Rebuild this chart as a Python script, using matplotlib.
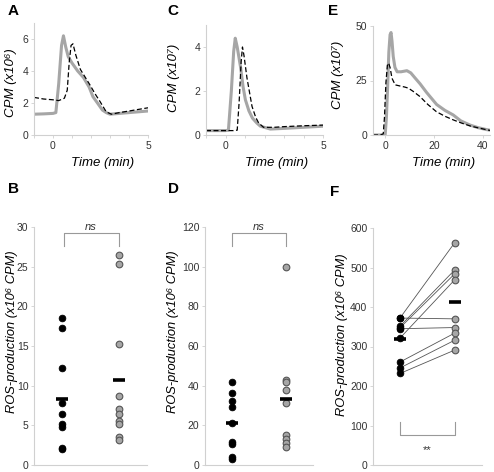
import matplotlib
matplotlib.use('Agg')
import matplotlib.pyplot as plt

plt.rcParams['font.family'] = ['Liberation Sans', 'DejaVu Sans']

# ---- kinetics (top row) ----
tA_solid = [-1, -0.5, 0, 0.15, 0.3, 0.45, 0.55, 0.67, 0.8, 1.0, 1.3, 1.6, 1.9, 2.1, 2.4, 2.6, 2.8, 3.0, 3.5, 4.0, 4.5, 5.0]
yA_solid = [1.3, 1.32, 1.35, 1.4, 3.2, 5.6, 6.2, 5.5, 4.9, 4.5, 4.0, 3.6, 3.0, 2.4, 1.9, 1.56, 1.4, 1.3, 1.35, 1.4, 1.45, 1.5]
tA_dash = [-1, -0.5, 0, 0.3, 0.6, 0.75, 0.85, 0.95, 1.05, 1.2, 1.44, 1.7, 1.96, 2.2, 2.47, 2.8, 3.07, 3.5, 4.0, 4.5, 5.0]
yA_dash = [2.35, 2.25, 2.2, 2.15, 2.3, 2.8, 4.5, 5.6, 5.7, 5.0, 4.1, 3.6, 3.1, 2.6, 2.1, 1.45, 1.3, 1.4, 1.5, 1.6, 1.7]

tC_solid = [-1, -0.5, 0, 0.15, 0.3, 0.42, 0.5, 0.6, 0.77, 0.9, 1.02, 1.2, 1.38, 1.6, 1.79, 2.3, 3.0, 4.0, 5.0]
yC_solid = [0.2, 0.2, 0.2, 0.22, 2.0, 3.8, 4.4, 4.0, 3.1, 2.2, 1.6, 1.1, 0.77, 0.55, 0.4, 0.27, 0.3, 0.35, 0.4]
tC_dash = [-1, -0.5, 0, 0.4, 0.6, 0.7, 0.8, 0.87, 0.95, 1.1, 1.36, 1.55, 1.7, 1.95, 2.5, 3.0, 4.0, 5.0]
yC_dash = [0.2, 0.2, 0.2, 0.2, 0.22, 1.5, 3.3, 4.0, 3.6, 2.6, 1.3, 0.8, 0.55, 0.35, 0.35, 0.38, 0.42, 0.45]

tE_solid = [-5, -2, 0, 0.5, 1.0, 1.5, 2.0, 2.4, 2.8, 3.3, 4.0, 4.9, 6.5, 8.9, 10.5, 12.0, 14.3, 17.0, 21.1, 24.5, 27.9, 31.0, 34.7, 38.0, 41.5, 43.0]
yE_solid = [0, 0, 0.2, 8, 22, 38, 46, 47, 43, 36, 31, 29, 29, 29.5, 28.5, 26.5, 23.5, 19.5, 14, 11.3, 9.2, 6.5, 4.6, 3.4, 2.5, 2.2]
tE_dash = [-5, -2, -0.8, -0.3, 0.3, 0.9, 1.4, 2.0, 2.8, 4.1, 6.0, 8.0, 9.5, 11.5, 14.3, 17.5, 21.0, 24.5, 28.0, 31.5, 35.0, 38.5, 41.6, 43.0]
yE_dash = [0, 0, 0.5, 8, 24, 32, 33, 31, 26, 23, 22.5, 22, 21.5, 20, 17.6, 14, 10.7, 8.6, 6.9, 5.4, 4.1, 3.2, 2.4, 2.1]

# ---- ROS production (bottom row) ----
B_ctrl = [18.5, 17.3, 12.2, 7.8, 6.4, 5.2, 4.8, 2.2, 2.0]
B_trt = [26.5, 25.3, 15.3, 8.7, 7.1, 6.4, 5.5, 5.2, 3.5, 3.1]
B_means = [8.35, 10.66]

D_ctrl = [41.6, 36.2, 32.5, 29.0, 21.4, 11.8, 10.6, 4.2, 3.0]
D_trt = [99.8, 42.9, 41.8, 37.9, 31.5, 15.0, 13.0, 10.9, 8.9]
D_means = [21.4, 33.3]

F_ctrl = [373, 372, 352, 348, 345, 322, 261, 246, 232]
F_trt = [563, 370, 494, 484, 348, 469, 334, 316, 291]
F_means = [320, 413]

W, H = 494, 472
fig = plt.figure(figsize=(W / 100, H / 100), dpi=100)

def box(l, r, t, b):
    return [l / W, 1 - b / H, (r - l) / W, (b - t) / H]

GREY = '#a6a6a6'
SPINE = '#d0d0d0'
TXT = '#333333'

def style(ax):
    for s in ['top', 'right']:
        ax.spines[s].set_visible(False)
    for s in ['left', 'bottom']:
        ax.spines[s].set_color(SPINE)
        ax.spines[s].set_linewidth(0.8)
    ax.tick_params(colors=SPINE, labelcolor=TXT, labelsize=7.5, length=2, width=0.6, pad=2)

def kinetic(rect, ts, ys, td, yd, xlim, ylim, xt, xtl, yt, ylab, lx, ly):
    ax = fig.add_axes(rect)
    style(ax)
    ax.plot(ts, ys, color=GREY, lw=2.2, solid_joinstyle='round')
    ax.plot(td, yd, color='black', lw=0.9, dashes=(4, 2))
    ax.set_xlim(*xlim)
    ax.set_ylim(*ylim)
    ax.set_xticks(xt)
    ax.set_xticklabels(xtl)
    ax.set_yticks(yt)
    ax.set_ylabel(ylab, fontsize=9.5, style='italic')
    ax.yaxis.set_label_coords(lx, ly)
    ax.set_xlabel('Time (min)', fontsize=9.5, style='italic')
    ax.xaxis.set_label_coords(0.6, -0.2)
    return ax

kinetic(box(34, 148, 23, 135), tA_solid, yA_solid, tA_dash, yA_dash, (-1, 5), (0, 7),
        [-1, 0, 1, 2, 3, 4, 5], ['', '0', '', '', '', '', '5'], [0, 2, 4, 6], 'CPM (x10⁶)', -0.15, 0.47)
kinetic(box(206, 323, 25, 135), tC_solid, yC_solid, tC_dash, yC_dash, (-1, 5), (0, 5),
        [-1, 0, 1, 2, 3, 4, 5], ['', '0', '', '', '', '', '5'], [0, 2, 4], 'CPM (x10⁷)', -0.22, 0.52)
kinetic(box(373, 490, 26, 135), tE_solid, yE_solid, tE_dash, yE_dash, (-5, 43), (0, 50),
        [0, 20, 40], ['0', '20', '40'], [0, 25, 50], 'CPM (x10⁷)', -0.25, 0.55)

def scatter(rect, ctrl, trt, means, ylim, yt, lx, ly, pairs=False):
    ax = fig.add_axes(rect)
    style(ax)
    ax.set_xlim(0.5, 2.5)
    ax.set_ylim(*ylim)
    ax.set_xticks([])
    ax.set_yticks(yt)
    if pairs:
        for a, b in zip(ctrl, trt):
            ax.plot([1, 2], [a, b], color='#555555', lw=0.6, zorder=1)
    ax.plot([1] * len(ctrl), ctrl, 'o', ms=4.8, mfc='black', mec='black', mew=0.6, zorder=3)
    ax.plot([2] * len(trt), trt, 'o', ms=4.8, mfc=GREY, mec='#555555', mew=0.8, zorder=3)
    ax.plot([1.0, 2.0], means, '_', color='black', ms=9, mew=2.6, zorder=4)
    ax.set_ylabel('ROS-production (x10⁶ CPM)', fontsize=9.3, style='italic')
    ax.yaxis.set_label_coords(lx, ly)
    return ax

axB = scatter(box(34, 147, 227, 465), B_ctrl, B_trt, B_means, (0, 30), [0, 5, 10, 15, 20, 25, 30], -0.145, 0.56)
axB.plot([1.03, 1.03, 2.0, 2.0], [27.6, 29.25, 29.25, 27.6], color='#999999', lw=0.8, clip_on=False)
axB.text(1.5, 30.0, 'ns', ha='center', va='center', fontsize=8, style='italic', color=TXT)

axD = scatter(box(205, 313, 227, 465), D_ctrl, D_trt, D_means, (0, 120), [0, 20, 40, 60, 80, 100, 120], -0.24, 0.56)
axD.plot([1.0, 1.0, 2.0, 2.0], [110.4, 117.1, 117.1, 110.4], color='#999999', lw=0.8, clip_on=False)
axD.text(1.5, 120.0, 'ns', ha='center', va='center', fontsize=8, style='italic', color=TXT)

axF = scatter(box(373, 482, 228, 465), F_ctrl, F_trt, F_means, (0, 600), [0, 100, 200, 300, 400, 500, 600], -0.23, 0.55, pairs=True)
axF.plot([1.0, 1.0, 2.0, 2.0], [109, 76, 76, 109], color='#999999', lw=0.8)
axF.text(1.5, 38, '**', ha='center', va='center', fontsize=8, color=TXT)

for lab, x, y in [('A', 8, 11), ('C', 167, 11), ('E', 328, 11), ('B', 8, 189), ('D', 168, 189), ('F', 330, 192)]:
    fig.text(x / W, 1 - y / H, lab, fontsize=11, fontweight='bold', ha='left', va='center')

fig.savefig('out.png', dpi=100)
